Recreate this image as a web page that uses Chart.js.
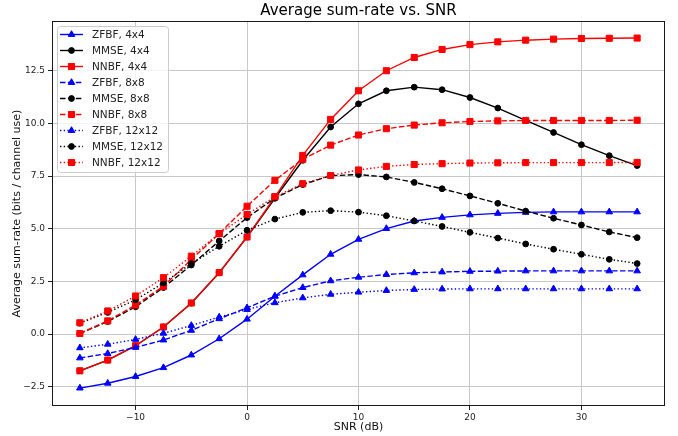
<!DOCTYPE html>
<html><head><meta charset="utf-8">
<script src="https://cdn.jsdelivr.net/npm/chart.js@4.4.1/dist/chart.umd.min.js"></script>
<style>html,body{margin:0;padding:0;background:#fff}#wrap{width:678px;height:436px}</style>
</head><body><div id="wrap"><canvas id="c" width="678" height="436"></canvas></div>
<script>
const snr = [-15,-12.5,-10,-7.5,-5,-2.5,0,2.5,5,7.5,10,12.5,15,17.5,20,22.5,25,27.5,30,32.5,35];
const xTicks = [-10,0,10,20,30];
const yTicks = [-2.5,0,2.5,5,7.5,10,12.5];

const zfbf4  = [-2.56,-2.33,-2.01,-1.59,-0.99,-0.22,0.71,1.80,2.81,3.79,4.50,5.01,5.37,5.54,5.66,5.73,5.78,5.80,5.80,5.80,5.80];
const mmse4  = [-1.74,-1.23,-0.55,0.34,1.47,2.91,4.61,6.45,8.25,9.83,10.93,11.55,11.72,11.60,11.23,10.73,10.14,9.57,8.99,8.47,8.00];
const nnbf4  = [-1.74,-1.23,-0.55,0.34,1.48,2.92,4.61,6.51,8.48,10.19,11.55,12.50,13.13,13.51,13.74,13.87,13.95,14.00,14.03,14.04,14.05];
const zfbf8  = [-1.13,-0.92,-0.63,-0.28,0.18,0.73,1.25,1.80,2.21,2.53,2.70,2.83,2.91,2.95,2.98,2.99,3.00,3.00,3.00,3.00,3.00];
const mmse8  = [0.03,0.60,1.30,2.21,3.28,4.42,5.53,6.45,7.10,7.52,7.57,7.46,7.20,6.90,6.56,6.21,5.84,5.50,5.18,4.85,4.58];
const nnbf8  = [0.03,0.63,1.38,2.27,3.54,4.77,6.07,7.30,8.30,8.97,9.45,9.75,9.92,10.03,10.09,10.12,10.14,10.14,10.14,10.14,10.15];
const zfbf12 = [-0.65,-0.48,-0.25,0.04,0.41,0.81,1.17,1.49,1.72,1.89,1.99,2.07,2.12,2.14,2.15,2.15,2.15,2.15,2.15,2.15,2.15];
const mmse12 = [0.52,1.03,1.63,2.43,3.35,4.17,4.93,5.46,5.78,5.86,5.79,5.62,5.37,5.11,4.83,4.56,4.28,4.03,3.79,3.55,3.35];
const nnbf12 = [0.54,1.10,1.81,2.68,3.70,4.77,5.68,6.52,7.14,7.53,7.79,7.96,8.05,8.09,8.12,8.13,8.14,8.14,8.14,8.14,8.15];

const labels = ['ZFBF, 4x4','MMSE, 4x4','NNBF, 4x4','ZFBF, 8x8','MMSE, 8x8','NNBF, 8x8','ZFBF, 12x12','MMSE, 12x12','NNBF, 12x12'];
const series = [zfbf4,mmse4,nnbf4,zfbf8,mmse8,nnbf8,zfbf12,mmse12,nnbf12];
const colors = ['#0000ff','#000000','#ff0000'];
const markers = ['triangle','circle','rect'];
const radii = [3.8,2.9,4.3];
const dashes = [[],[5.5,2.4],[1.4,2.3]];

const datasets = series.map((vals,i)=>{
  const m = i%3, d = Math.floor(i/3);
  return {
    label: labels[i],
    data: vals.map((v,k)=>({x:snr[k],y:v})),
    borderColor: colors[m], backgroundColor: colors[m],
    borderWidth: 1.4, borderDash: dashes[d],
    pointStyle: markers[m], pointRadius: radii[m], pointBorderWidth: 1,
    pointBackgroundColor: colors[m], pointBorderColor: colors[m],
    tension: 0, fill: false, order: 20 - i
  };
});

const minus = s => s.replace('-','\u2212');
const font = '"DejaVu Sans", sans-serif';

function drawMarker(ctx, style, r, x, y){
  ctx.beginPath();
  if(style==='circle'){ ctx.arc(x,y,r,0,Math.PI*2); }
  else if(style==='rect'){ const s=r*Math.SQRT1_2; ctx.rect(x-s,y-s,2*s,2*s); }
  else { // triangle like Chart.js
    const a = Math.PI/2;
    ctx.moveTo(x + Math.sin(0)*r, y - Math.cos(0)*r);
    ctx.lineTo(x + Math.sin(2*Math.PI/3)*r, y - Math.cos(2*Math.PI/3)*r);
    ctx.lineTo(x + Math.sin(4*Math.PI/3)*r, y - Math.cos(4*Math.PI/3)*r);
    ctx.closePath();
  }
  ctx.fill(); ctx.stroke();
}

const decor = {
  id:'decor',
  afterDatasetsDraw(chart){
    const ctx = chart.ctx, a = chart.chartArea;
    ctx.save();
    // frame
    ctx.strokeStyle = '#1a1a1a'; ctx.lineWidth = 1; ctx.setLineDash([]);
    ctx.strokeRect(Math.round(a.left)+0.5, Math.round(a.top)+0.5, Math.round(a.right-a.left)-1, Math.round(a.bottom-a.top)-1);
    // legend
    const x0 = a.left+5, y0 = a.top+5, w = 111, h = 146;
    ctx.beginPath();
    if (ctx.roundRect) ctx.roundRect(x0+0.5,y0+0.5,w,h,3); else ctx.rect(x0+0.5,y0+0.5,w,h);
    ctx.fillStyle = 'rgba(255,255,255,0.8)'; ctx.fill();
    ctx.strokeStyle = '#cccccc'; ctx.lineWidth = 1; ctx.stroke();
    chart.data.datasets.forEach((ds,i)=>{
      const cy = y0 + 8.5 + i*16;
      ctx.strokeStyle = ds.borderColor; ctx.lineWidth = ds.borderWidth;
      ctx.setLineDash(ds.borderDash);
      ctx.beginPath(); ctx.moveTo(x0+3, cy); ctx.lineTo(x0+26, cy); ctx.stroke();
      ctx.setLineDash([]); ctx.lineWidth = 1;
      ctx.fillStyle = ds.backgroundColor;
      drawMarker(ctx, ds.pointStyle, ds.pointRadius, x0+14.5, cy);
      ctx.fillStyle = '#222'; ctx.font = '10.5px ' + font;
      ctx.textBaseline = 'middle'; ctx.textAlign = 'left';
      ctx.fillText(ds.label, x0+35, cy+0.5);
    });
    // title
    ctx.fillStyle = '#000'; ctx.font = '15px ' + font;
    ctx.textAlign = 'center'; ctx.textBaseline = 'middle';
    ctx.fillText('Average sum-rate vs. SNR', (a.left+a.right)/2, 11);
    ctx.restore();
  }
};

new Chart(document.getElementById('c'), {
  type: 'line',
  data: { datasets },
  options: {
    responsive: false, animation: false, devicePixelRatio: 1,
    layout: { padding: { top: 21, right: 13, left: 0, bottom: 0 } },
    plugins: { legend: { display: false }, tooltip: { enabled: false }, title: { display: false } },
    scales: {
      x: {
        type: 'linear', min: -17.5, max: 37.5,
        afterBuildTicks: s => { s.ticks = xTicks.map(v=>({value:v})); },
        afterFit: s => { s.height = 30; },
        ticks: { callback: v => minus(String(v)), font: { family: font, size: 9 }, color: '#222', padding: 2, maxRotation: 0 },
        grid: { color: '#c8c8c8', lineWidth: 1, tickLength: 4, tickColor: '#222' },
        border: { display: false },
        title: { display: true, text: 'SNR (dB)', font: { family: font, size: 11 }, color: '#111', padding: { top: 0, bottom: 2.5 } }
      },
      y: {
        type: 'linear', min: -3.41, max: 14.86,
        afterBuildTicks: s => { s.ticks = yTicks.map(v=>({value:v})); },
        afterFit: s => { s.width = 52; },
        ticks: { callback: v => minus(v.toFixed(1)), font: { family: font, size: 9 }, color: '#222', padding: 3 },
        grid: { color: '#c8c8c8', lineWidth: 1, tickLength: 4, tickColor: '#222' },
        border: { display: false },
        title: { display: true, text: 'Average sum-rate (bits / channel use)', font: { family: font, size: 11 }, color: '#111', padding: { top: 11, bottom: 0 } }
      }
    }
  },
  plugins: [decor]
});
</script>
</body></html>
